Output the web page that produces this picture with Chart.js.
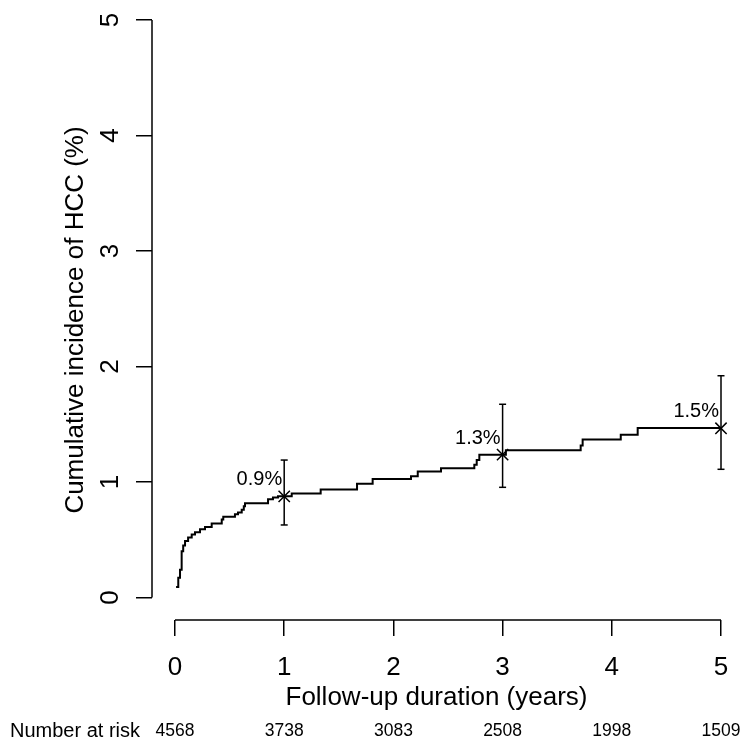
<!DOCTYPE html>
<html>
<head>
<meta charset="utf-8">
<script src="https://cdn.jsdelivr.net/npm/chart.js@4.4.1/dist/chart.umd.min.js"></script>
<style>
  html, body { margin: 0; padding: 0; background: #fff; }
  #wrap { width: 743px; height: 742px; }
</style>
</head>
<body>
<div id="wrap"><canvas id="cumChart"></canvas></div>
<script>
// Cumulative incidence curve (step points)
const timeYears = [0.01, 0.03, 0.046, 0.061, 0.075, 0.092, 0.12, 0.153, 0.183, 0.229, 0.275, 0.336, 0.428, 0.442, 0.549, 0.577, 0.611, 0.63, 0.641, 0.852, 0.897, 0.943, 1.069, 1.334, 1.667, 1.81, 2.161, 2.223, 2.436, 2.741, 2.763, 2.787, 3.03, 3.715, 3.733, 4.082, 4.237, 5.0];
const incidence = [0.09, 0.17, 0.24, 0.40, 0.45, 0.49, 0.52, 0.545, 0.565, 0.59, 0.61, 0.64, 0.675, 0.70, 0.72, 0.735, 0.76, 0.79, 0.815, 0.85, 0.865, 0.876, 0.90, 0.935, 0.985, 1.027, 1.05, 1.09, 1.12, 1.15, 1.19, 1.237, 1.275, 1.315, 1.367, 1.41, 1.468, 1.468];

// Estimates at 1, 3, 5 years with confidence intervals
const markerTimes = [1, 3, 5];
const markerValues = [0.876, 1.237, 1.465];
const ciLower = [0.628, 0.954, 1.11];
const ciUpper = [1.19, 1.673, 1.92];
const markerLabels = ['0.9%', '1.3%', '1.5%'];

// Axes and risk table
const xTicks = [0, 1, 2, 3, 4, 5];
const yTicks = [0, 1, 2, 3, 4, 5];
const riskTimes = [0, 1, 2, 3, 4, 5];
const riskCounts = [4568, 3738, 3083, 2508, 1998, 1509];

const FONT = '"Liberation Sans", Arial, sans-serif';
Chart.defaults.font.family = FONT;
Chart.defaults.color = '#000';

const curveData = timeYears.map((t, i) => ({ x: t, y: incidence[i] }));
const markerData = markerTimes.map((t, i) => ({ x: t, y: markerValues[i] }));
const ciData = [];
markerTimes.forEach((t, i) => {
    ciData.push({ x: t, y: ciLower[i] }, { x: t, y: ciUpper[i] }, { x: t, y: null });
});

// no extra label padding, the layout padding alone places the plot box
const noPadding = (scale) => {
    scale.paddingTop = 0;
    scale.paddingBottom = 0;
    scale.paddingLeft = 0;
    scale.paddingRight = 0;
};

// R-style detached axis lines + text annotations
const rAxesPlugin = {
    id: 'rAxes',
    afterDraw(chart) {
        const { ctx, chartArea, scales: { x, y, risk } } = chart;
        ctx.save();
        ctx.strokeStyle = '#000';
        ctx.lineWidth = 1.5;
        ctx.beginPath();
        ctx.moveTo(chartArea.left, y.getPixelForValue(yTicks[0]));
        ctx.lineTo(chartArea.left, y.getPixelForValue(yTicks[yTicks.length - 1]));
        ctx.moveTo(x.getPixelForValue(xTicks[0]), chartArea.bottom);
        ctx.lineTo(x.getPixelForValue(xTicks[xTicks.length - 1]), chartArea.bottom);
        ctx.stroke();

        ctx.fillStyle = '#000';
        ctx.font = '20px ' + FONT;
        ctx.textAlign = 'right';
        ctx.textBaseline = 'alphabetic';
        markerTimes.forEach((t, i) => {
            ctx.fillText(markerLabels[i], x.getPixelForValue(t) - 2, y.getPixelForValue(markerValues[i]) - 11);
        });

        ctx.textAlign = 'left';
        ctx.textBaseline = 'middle';
        ctx.fillText('Number at risk', 10, risk.top + risk.options.ticks.padding + 17.5 * 1.2 / 2);
        ctx.restore();
    }
};

const ctx = document.getElementById('cumChart').getContext('2d');
new Chart(ctx, {
    type: 'line',
    data: {
        datasets: [
            {
                label: 'Cumulative incidence',
                data: curveData,
                stepped: true,
                borderColor: '#000',
                borderWidth: 2,
                pointRadius: 0,
                fill: false,
                clip: false
            },
            {
                label: '95% CI',
                data: ciData,
                borderColor: '#000',
                borderWidth: 1.5,
                spanGaps: false,
                pointStyle: 'line',
                pointRadius: 3.5,
                pointBorderWidth: 1.5,
                pointBorderColor: '#000',
                clip: false
            },
            {
                label: 'Estimate',
                data: markerData,
                showLine: false,
                pointStyle: 'crossRot',
                pointRadius: 8,
                pointBorderWidth: 1.5,
                pointBorderColor: '#000',
                clip: false
            }
        ]
    },
    options: {
        responsive: true,
        maintainAspectRatio: false,
        animation: false,
        layout: { padding: { top: 20, right: 22, bottom: 0, left: 60 } },
        plugins: { legend: { display: false }, tooltip: { enabled: false } },
        scales: {
            x: {
                type: 'linear',
                position: 'bottom',
                weight: 0,
                min: -0.2106,
                max: 5,
                afterBuildTicks: (scale) => { scale.ticks = xTicks.map(v => ({ value: v })); },
                afterFit: (scale) => { scale.height = 93; noPadding(scale); },
                grid: { drawOnChartArea: false, color: '#000', lineWidth: 1.5, tickLength: 16 },
                border: { display: false },
                ticks: { autoSkip: false, maxRotation: 0, padding: 16, font: { size: 26 } },
                title: { display: true, text: 'Follow-up duration (years)', font: { size: 26 }, padding: 0 }
            },
            risk: {
                type: 'linear',
                position: 'bottom',
                weight: 1,
                min: -0.2106,
                max: 5,
                afterBuildTicks: (scale) => { scale.ticks = riskTimes.map(v => ({ value: v })); },
                afterFit: (scale) => { scale.height = 29; noPadding(scale); },
                grid: { display: false, drawTicks: false },
                border: { display: false },
                ticks: {
                    autoSkip: false,
                    maxRotation: 0,
                    padding: 8,
                    font: { size: 17.5 },
                    callback: (value, index) => riskCounts[index]
                }
            },
            y: {
                type: 'linear',
                position: 'left',
                min: -0.1948,
                max: 5,
                afterBuildTicks: (scale) => { scale.ticks = yTicks.map(v => ({ value: v })); },
                afterFit: (scale) => { scale.width = 92; noPadding(scale); },
                grid: { drawOnChartArea: false, color: '#000', lineWidth: 1.5, tickLength: 16 },
                border: { display: false },
                ticks: { minRotation: 90, maxRotation: 90, crossAlign: 'center', padding: 18, font: { size: 26 } },
                title: { display: true, text: 'Cumulative incidence of HCC (%)', font: { size: 26 }, padding: 0 }
            }
        }
    },
    plugins: [rAxesPlugin]
});
</script>
</body>
</html>
